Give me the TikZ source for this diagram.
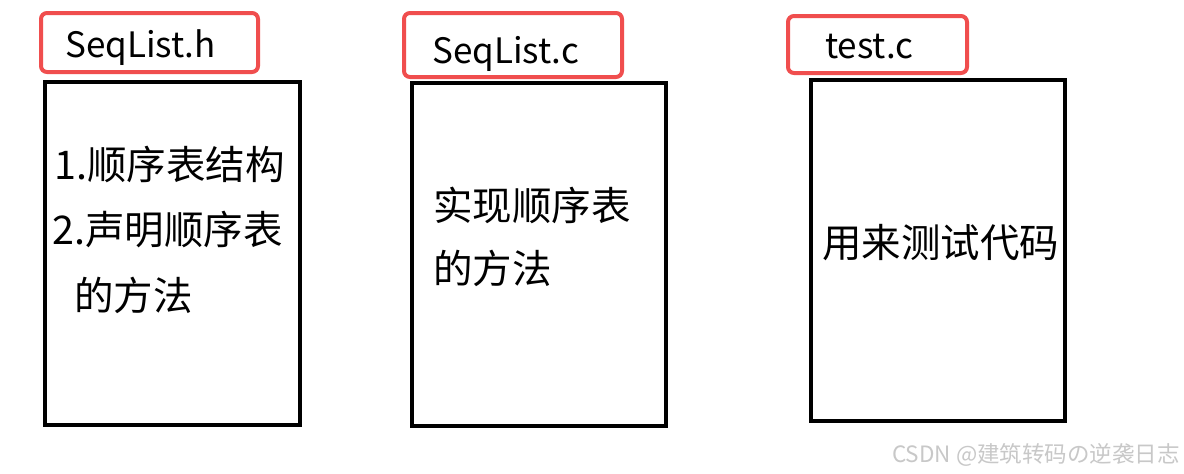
\documentclass[tikz,border=0pt]{standalone}
\usepackage{fontspec}
\setmainfont{Noto Sans CJK SC}
\definecolor{redc}{RGB}{240,78,78}
\definecolor{wmgray}{RGB}{200,200,200}
\begin{document}
\begin{tikzpicture}[x=1pt,y=-1pt,
  titlebox/.style={draw=redc, line width=4pt, rounded corners=6pt, inner sep=0pt},
  filebox/.style={draw=black, line width=3.5pt, inner sep=0pt},
  titletext/.style={anchor=base west, font=\fontsize{35}{40}\selectfont, inner sep=0pt},
  bodytext/.style={anchor=west, font=\fontsize{39.5}{44}\selectfont, inner sep=0pt},
  watermark/.style={anchor=east, font=\fontsize{22.5}{26}\selectfont, text=wmgray, inner sep=0pt}
]
\useasboundingbox[fill=white] (0,0) rectangle (1184,474);

% red title boxes
\node[titlebox, minimum width=217pt, minimum height=59pt] (r1) at (149.5,42.5) {};
\node[titlebox, minimum width=218pt, minimum height=64pt] (r2) at (513,45) {};
\node[titlebox, minimum width=179pt, minimum height=57pt] (r3) at (877.5,44.5) {};

\node[titletext] (t1) at (65,57) {SeqList.h};
\node[titletext] (t2) at (432,63) {SeqList.c};
\node[titletext] (t3) at (825,58) {test.c};

% black file boxes
\node[filebox, minimum width=255pt, minimum height=343pt] (b1) at (172.5,253.5) {};
\node[filebox, minimum width=254pt, minimum height=343pt] (b2) at (539,254.5) {};
\node[filebox, minimum width=254pt, minimum height=341pt] (b3) at (938,250.5) {};

% body texts
\node[bodytext] (l11) at (54,164) {1.顺序表结构};
\node[bodytext] (l12) at (52,230) {2.声明顺序表};
\node[bodytext] (l13) at (74,295) {的方法};

\node[bodytext] (l21) at (433,205) {实现顺序表};
\node[bodytext] (l22) at (433,268) {的方法};

\node[bodytext] (l31) at (822,243) {用来测试代码};

% watermark
\node[watermark] (wm) at (1180,455) {CSDN @建筑转码の逆袭日志};
\end{tikzpicture}
\end{document}
